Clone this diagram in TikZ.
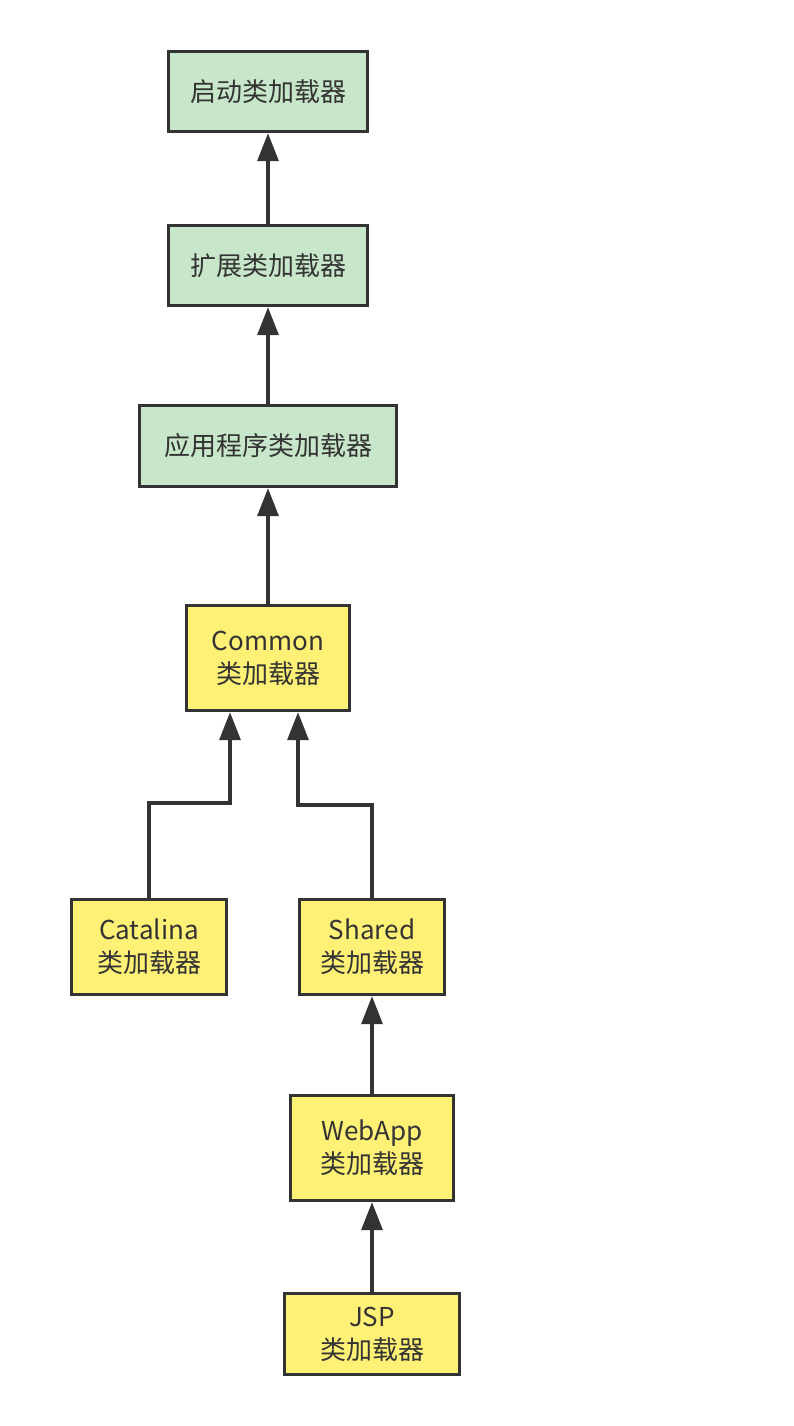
\documentclass[tikz,border=0pt]{standalone}
\usepackage{fontspec}
\setmainfont{Noto Sans CJK SC}
\usetikzlibrary{arrows.meta}

\definecolor{loadgreen}{HTML}{C8E6C9}
\definecolor{loadyellow}{HTML}{FFF176}
\definecolor{ink}{HTML}{333333}

\begin{document}
\begin{tikzpicture}[x=1pt,y=-1pt,-{Triangle[length=28pt,width=21pt]},
  line width=3.4pt,draw=ink,
  load node/.style={rectangle,draw=ink,line width=3.4pt,text=ink,inner sep=0pt,
    align=center,font=\fontsize{26}{33}\selectfont},
  green node/.style={load node,fill=loadgreen},
  yellow node/.style={load node,fill=loadyellow}]
  \useasboundingbox (0,0) rectangle (794,1426);
  \node[green node, minimum width=199pt, minimum height=80pt] (1) at (268,91.5) {启动类加载器};
  \node[green node, minimum width=199pt, minimum height=80pt] (2) at (268,265.5) {扩展类加载器};
  \node[green node, minimum width=257pt, minimum height=81pt] (3) at (268,446) {应用程序类加载器};
  \node[yellow node, minimum width=163pt, minimum height=105pt] (4) at (268,658) {Common\\类加载器};
  \node[yellow node, minimum width=155pt, minimum height=95pt] (5) at (149,947) {Catalina\\类加载器};
  \node[yellow node, minimum width=145pt, minimum height=95pt] (6) at (372,947) {Shared\\类加载器};
  \node[yellow node, minimum width=163pt, minimum height=105pt] (7) at (372,1148) {WebApp\\类加载器};
  \node[yellow node, minimum width=175pt, minimum height=81pt] (8) at (372,1334) {JSP\\类加载器};
  \coordinate (k5) at (149,803);
  \coordinate (k6) at (372,805);
  \path[draw=ink]
    (2) edge (1)
    (3) edge (2)
    (4) edge (3)
    (7) edge (6)
    (8) edge (7);
  \draw[ink] (5) -- (k5) -| ([xshift=-38pt]4.south);
  \draw[ink] (6) -- (k6) -| ([xshift=30pt]4.south);
\end{tikzpicture}
\end{document}
